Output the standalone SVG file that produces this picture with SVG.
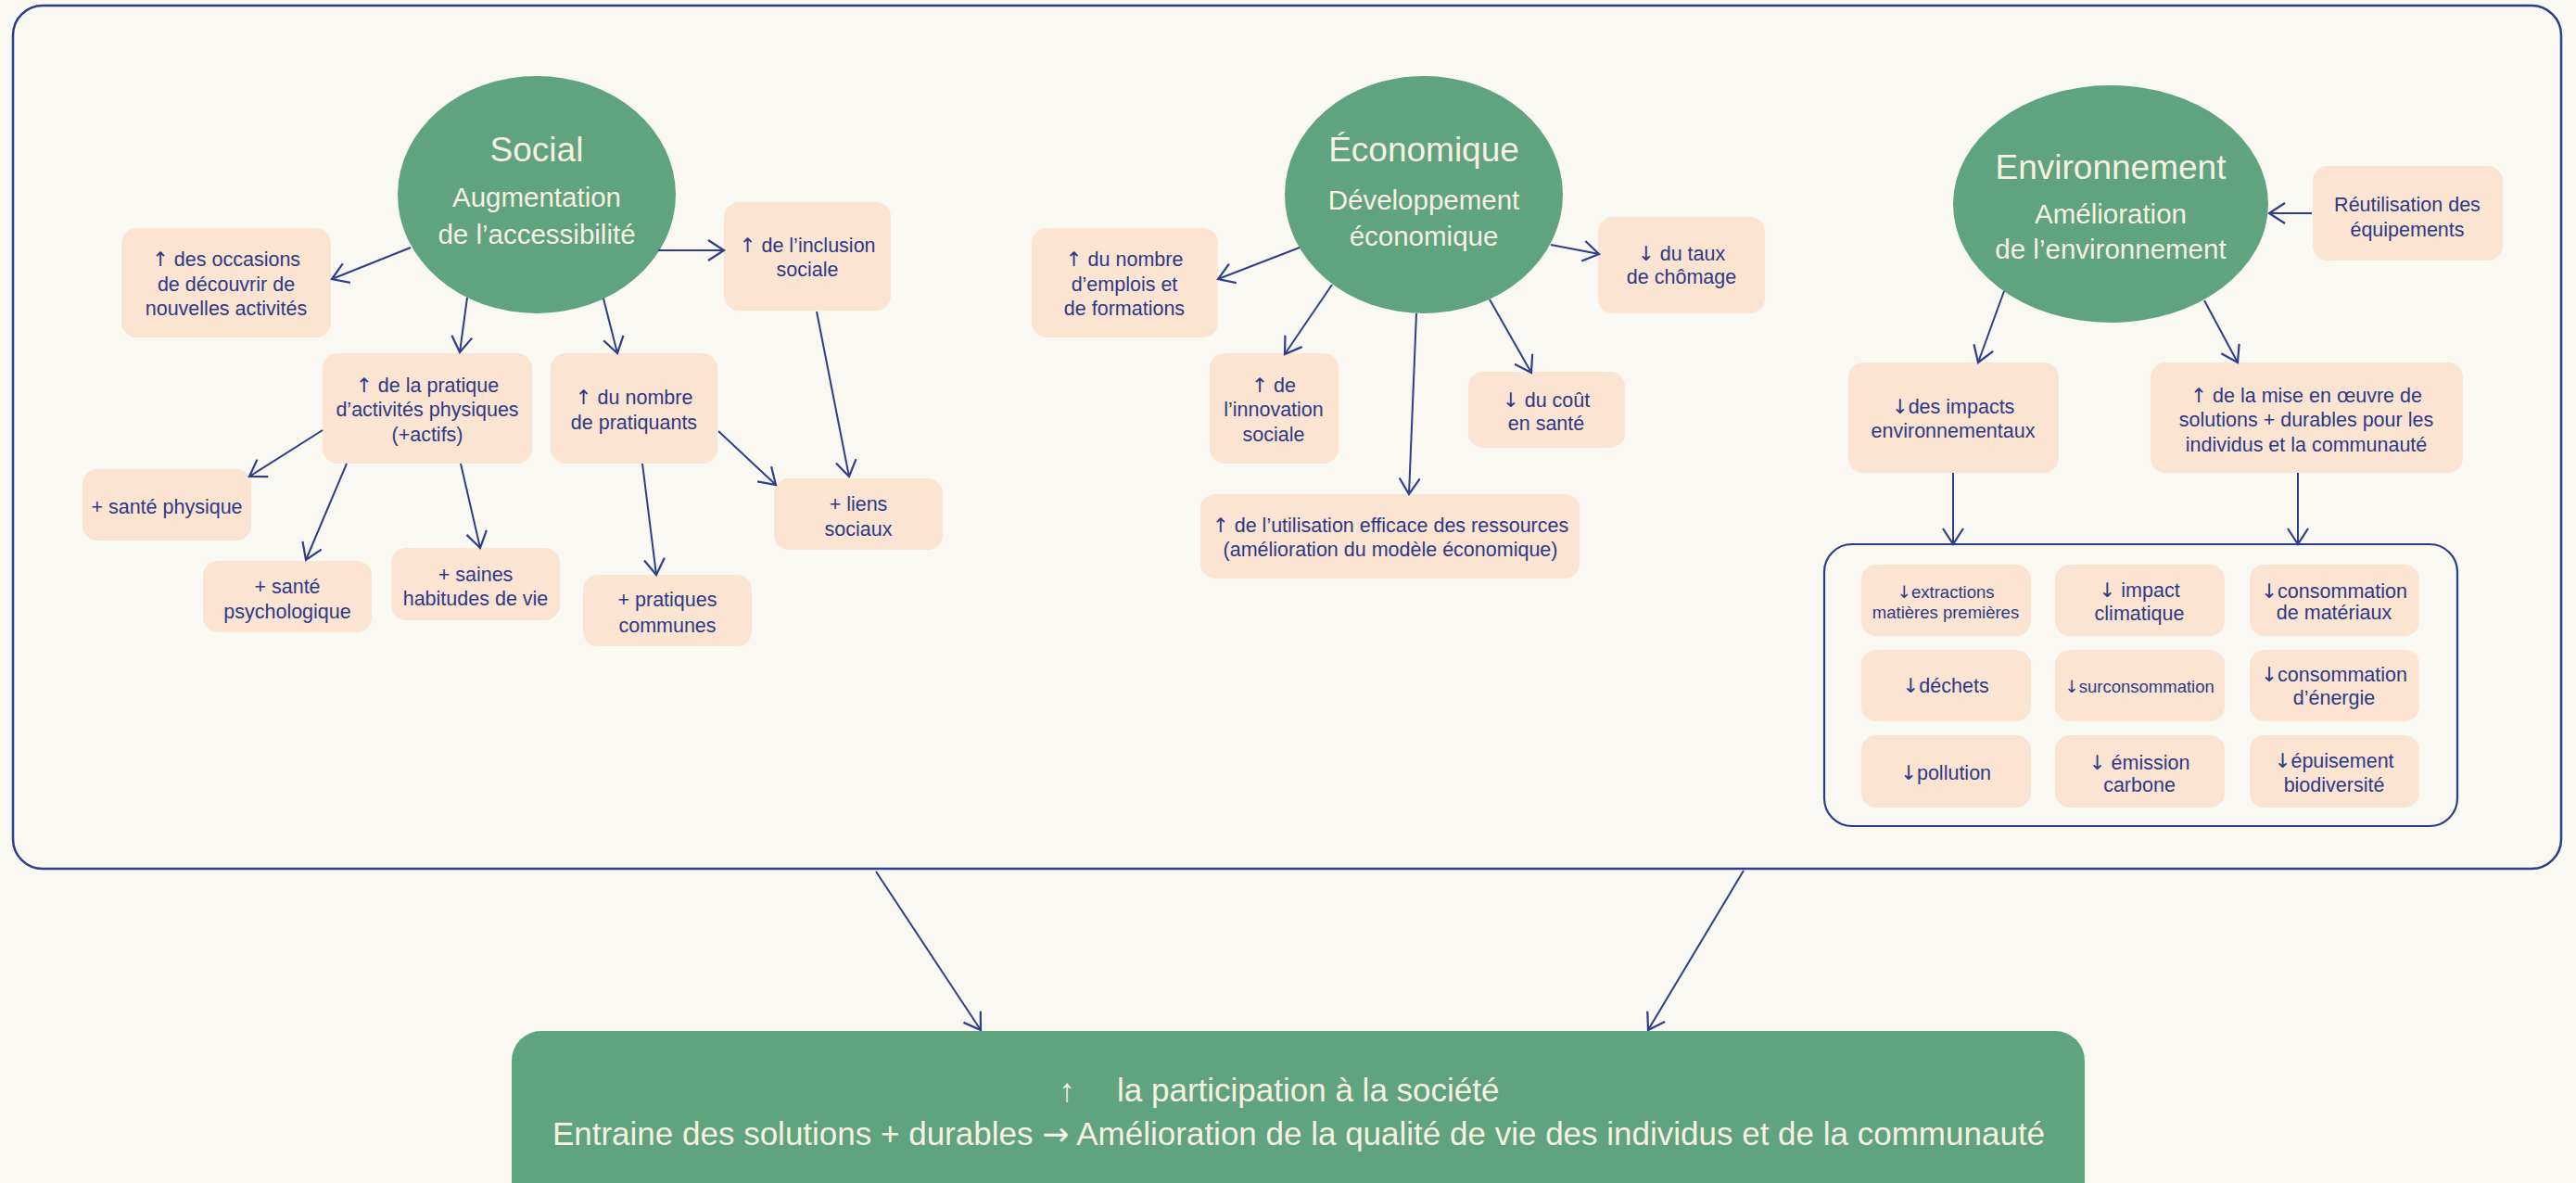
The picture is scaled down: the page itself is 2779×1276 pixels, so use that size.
<svg xmlns="http://www.w3.org/2000/svg" width="2779" height="1276" viewBox="0 0 2779 1276">
<defs>
<marker id="arr" viewBox="-20 -14 24 28" refX="0" refY="0" markerWidth="24" markerHeight="28" markerUnits="userSpaceOnUse" orient="auto">
<path d="M-17,-11 L0,0 L-17,11" fill="none" stroke="#2D3D8A" stroke-width="2.2"/>
</marker>
<style>
.bg{fill:#FAF8F3}
.frame{fill:#FAF8F3;stroke:#2D3D8A;stroke-width:2.5}
.ell{fill:#5FA37F}
.box{fill:#FBE4D2}
.t{font-family:"Liberation Sans",Arial,sans-serif;font-size:21.5px;fill:#2D3A85;text-anchor:middle}
.s{font-size:18.5px}
.a{font-family:"DejaVu Sans",sans-serif}
.h{font-family:"Liberation Sans",Arial,sans-serif;font-size:37px;fill:#F8F1E0;text-anchor:middle}
.sub{font-family:"Liberation Sans",Arial,sans-serif;font-size:29.5px;fill:#F8F1E0;text-anchor:middle}
.b{font-family:"Liberation Sans",Arial,sans-serif;font-size:35px;fill:#F8F1E0}
.c{fill:none;stroke:#2D3D8A;stroke-width:2;marker-end:url(#arr)}
</style>
</defs>
<rect class="bg" x="0" y="0" width="2779" height="1276"/>
<rect class="frame" x="14" y="6" width="2749" height="931" rx="32"/>
<rect x="1968" y="587" width="683" height="304" rx="30" fill="none" stroke="#2D3D8A" stroke-width="2.2"/>

<g id="social">
<ellipse class="ell" cx="579" cy="210" rx="150" ry="128"/>
<text class="h" x="579" y="174">Social</text>
<text class="sub" x="579" y="223">Augmentation</text>
<text class="sub" x="579" y="263">de l’accessibilité</text>
</g>
<g id="occasions"><rect class="box" x="131" y="246" width="226" height="118" rx="16"/>
<text class="t" x="244" y="287"><tspan class="a">↑</tspan> des occasions</text><text class="t" x="244" y="314">de découvrir de</text><text class="t" x="244" y="340">nouvelles activités</text></g>
<g id="inclusion"><rect class="box" x="781" y="218" width="180" height="117" rx="16"/>
<text class="t" x="871" y="272"><tspan class="a">↑</tspan> de l’inclusion</text><text class="t" x="871" y="298">sociale</text></g>
<g id="pratique"><rect class="box" x="348" y="381" width="226" height="119" rx="16"/>
<text class="t" x="461" y="423"><tspan class="a">↑</tspan> de la pratique</text><text class="t" x="461" y="449">d’activités physiques</text><text class="t" x="461" y="476">(+actifs)</text></g>
<g id="pratiquants"><rect class="box" x="594" y="381" width="180" height="119" rx="16"/>
<text class="t" x="684" y="436"><tspan class="a">↑</tspan> du nombre</text><text class="t" x="684" y="463">de pratiquants</text></g>
<g id="sante-physique"><rect class="box" x="89" y="506" width="182" height="77" rx="16"/>
<text class="t" x="180" y="554">+ santé physique</text></g>
<g id="sante-psy"><rect class="box" x="219" y="605" width="182" height="77" rx="16"/>
<text class="t" x="310" y="640">+ santé</text><text class="t" x="310" y="667">psychologique</text></g>
<g id="saines"><rect class="box" x="422" y="591" width="182" height="78" rx="16"/>
<text class="t" x="513" y="627">+ saines</text><text class="t" x="513" y="653">habitudes de vie</text></g>
<g id="communes"><rect class="box" x="629" y="620" width="182" height="77" rx="16"/>
<text class="t" x="720" y="654">+ pratiques</text><text class="t" x="720" y="682">communes</text></g>
<g id="liens"><rect class="box" x="835" y="516" width="182" height="77" rx="16"/>
<text class="t" x="926" y="551">+ liens</text><text class="t" x="926" y="578">sociaux</text></g>

<g id="economique">
<ellipse class="ell" cx="1536" cy="210" rx="150" ry="128"/>
<text class="h" x="1536" y="174">Économique</text>
<text class="sub" x="1536" y="226">Développement</text>
<text class="sub" x="1536" y="265">économique</text>
</g>
<g id="emplois"><rect class="box" x="1113" y="246" width="201" height="118" rx="16"/>
<text class="t" x="1213" y="287"><tspan class="a">↑</tspan> du nombre</text><text class="t" x="1213" y="314">d’emplois et</text><text class="t" x="1213" y="340">de formations</text></g>
<g id="chomage"><rect class="box" x="1724" y="234" width="180" height="104" rx="16"/>
<text class="t" x="1814" y="281"><tspan class="a">↓</tspan> du taux</text><text class="t" x="1814" y="306">de chômage</text></g>
<g id="innovation"><rect class="box" x="1305" y="381" width="139" height="119" rx="16"/>
<text class="t" x="1374" y="423"><tspan class="a">↑</tspan> de</text><text class="t" x="1374" y="449">l’innovation</text><text class="t" x="1374" y="476">sociale</text></g>
<g id="cout"><rect class="box" x="1584" y="401" width="169" height="82" rx="16"/>
<text class="t" x="1668" y="439"><tspan class="a">↓</tspan> du coût</text><text class="t" x="1668" y="464">en santé</text></g>
<g id="utilisation"><rect class="box" x="1295" y="533" width="409" height="91" rx="16"/>
<text class="t" x="1500" y="574"><tspan class="a">↑</tspan> de l’utilisation efficace des ressources</text><text class="t" x="1500" y="600">(amélioration du modèle économique)</text></g>

<g id="environnement">
<ellipse class="ell" cx="2277" cy="220" rx="170" ry="128"/>
<text class="h" x="2277" y="193">Environnement</text>
<text class="sub" x="2277" y="241">Amélioration</text>
<text class="sub" x="2277" y="279">de l’environnement</text>
</g>
<g id="reutilisation"><rect class="box" x="2495" y="179" width="205" height="102" rx="16"/>
<text class="t" x="2597" y="228">Réutilisation des</text><text class="t" x="2597" y="255">équipements</text></g>
<g id="impacts"><rect class="box" x="1994" y="391" width="227" height="119" rx="16"/>
<text class="t" x="2107" y="446"><tspan class="a">↓</tspan>des impacts</text><text class="t" x="2107" y="472">environnementaux</text></g>
<g id="mise"><rect class="box" x="2320" y="391" width="337" height="119" rx="16"/>
<text class="t" x="2488" y="434"><tspan class="a">↑</tspan> de la mise en œuvre de</text><text class="t" x="2488" y="460">solutions + durables pour les</text><text class="t" x="2488" y="487">individus et la communauté</text></g>

<g id="extractions"><rect class="box" x="2008" y="609" width="183" height="77" rx="16"/>
<text class="t s" x="2099" y="645"><tspan class="a">↓</tspan>extractions</text><text class="t s" x="2099" y="667">matières premières</text></g>
<g id="climatique"><rect class="box" x="2217" y="609" width="183" height="77" rx="16"/>
<text class="t" x="2308" y="644"><tspan class="a">↓</tspan> impact</text><text class="t" x="2308" y="669">climatique</text></g>
<g id="materiaux"><rect class="box" x="2427" y="609" width="183" height="77" rx="16"/>
<text class="t" x="2518" y="645"><tspan class="a">↓</tspan>consommation</text><text class="t" x="2518" y="668">de matériaux</text></g>
<g id="dechets"><rect class="box" x="2008" y="701" width="183" height="77" rx="16"/>
<text class="t" x="2099" y="747"><tspan class="a">↓</tspan>déchets</text></g>
<g id="surconsommation"><rect class="box" x="2217" y="701" width="183" height="77" rx="16"/>
<text class="t s" x="2308" y="747"><tspan class="a">↓</tspan>surconsommation</text></g>
<g id="energie"><rect class="box" x="2427" y="701" width="183" height="77" rx="16"/>
<text class="t" x="2518" y="735"><tspan class="a">↓</tspan>consommation</text><text class="t" x="2518" y="760">d’énergie</text></g>
<g id="pollution"><rect class="box" x="2008" y="793" width="183" height="78" rx="16"/>
<text class="t" x="2099" y="841"><tspan class="a">↓</tspan>pollution</text></g>
<g id="carbone"><rect class="box" x="2217" y="793" width="183" height="78" rx="16"/>
<text class="t" x="2308" y="830"><tspan class="a">↓</tspan> émission</text><text class="t" x="2308" y="854">carbone</text></g>
<g id="biodiversite"><rect class="box" x="2427" y="793" width="183" height="78" rx="16"/>
<text class="t" x="2518" y="828"><tspan class="a">↓</tspan>épuisement</text><text class="t" x="2518" y="854">biodiversité</text></g>

<g id="connectors">
<path class="c" d="M443,267 L358,301"/>
<path class="c" d="M710,270 L781,270"/>
<path class="c" d="M504,321 L496,380"/>
<path class="c" d="M651,322 L666,381"/>
<path class="c" d="M881,336 L916,514"/>
<path class="c" d="M348,464 L269,514"/>
<path class="c" d="M374,500 L330,604"/>
<path class="c" d="M497,500 L518,591"/>
<path class="c" d="M775,465 L837,523"/>
<path class="c" d="M693,500 L708,620"/>
<path class="c" d="M1402,267 L1314,301"/>
<path class="c" d="M1673,264 L1725,274"/>
<path class="c" d="M1437,307 L1386,382"/>
<path class="c" d="M1607,323 L1652,402"/>
<path class="c" d="M1528,338 L1520,533"/>
<path class="c" d="M2494,230 L2448,230"/>
<path class="c" d="M2162,314 L2134,391"/>
<path class="c" d="M2378,324 L2414,391"/>
<path class="c" d="M2107,510 L2107,587"/>
<path class="c" d="M2479,510 L2479,587"/>
<path class="c" d="M945,940 L1058,1111"/>
<path class="c" d="M1881,939 L1778,1111"/>
</g>

<g id="resultat">
<rect x="552" y="1112" width="1697" height="230" rx="32" fill="#5FA37F"/>
<text class="b a" x="1151" y="1188" text-anchor="middle">↑</text>
<text class="b" x="1205" y="1188">la participation à la société</text>
<text class="b" x="1401" y="1235" text-anchor="middle">Entraine des solutions + durables <tspan class="a">→</tspan> Amélioration de la qualité de vie des individus et de la communauté</text>
</g>
</svg>
